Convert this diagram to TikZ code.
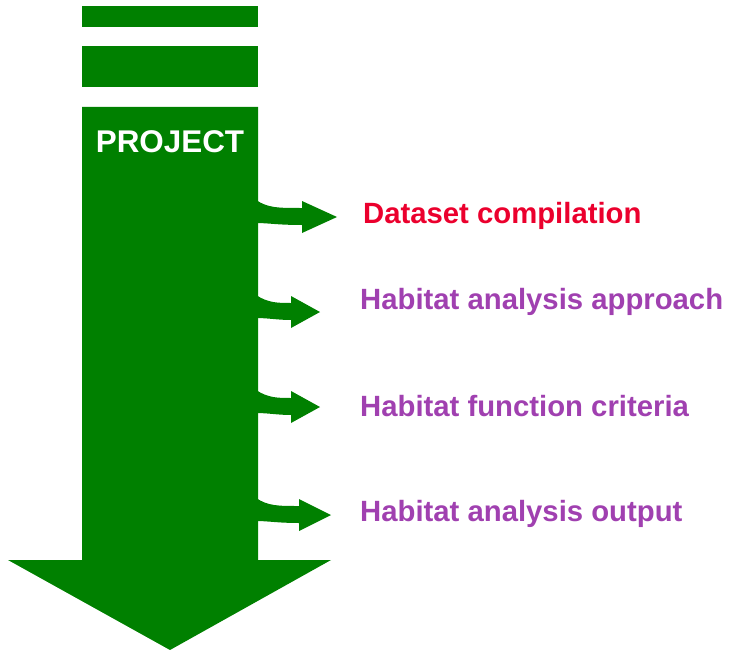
\documentclass[tikz,border=0pt]{standalone}
\usepackage{fontspec}
\setmainfont{Liberation Sans}
\usetikzlibrary{calc,positioning}
\definecolor{arrgreen}{RGB}{0,128,0}
\definecolor{stepred}{RGB}{235,0,45}
\definecolor{steppurple}{RGB}{160,64,176}
\tikzstyle{block} = [fill=arrgreen,draw=none]
\tikzstyle{title} = [text=white,font=\fontsize{31.5}{31.5}\selectfont\bfseries,inner sep=0pt,anchor=base]
\tikzstyle{steplabel} = [font=\fontsize{29.4}{29.4}\selectfont\bfseries,inner sep=0pt,anchor=base west]

\begin{document}
\begin{tikzpicture}[x=1bp,y=-1bp]
\useasboundingbox (0,0) rectangle (731,650);

% bars on top of the shaft
\fill[block] (82,6) rectangle (258,27);
\fill[block] (82,46) rectangle (258,87);

% big arrow
\fill[block] (82,107) -- (258,107) -- (258,560) -- (331,560) -- (170,650) -- (8,560) -- (82,560) -- cycle;
\node (proj) [title] at (170,152) {PROJECT};

% side arrows: y of tip, x of head base, x of tip
\foreach \y/\b/\t [count=\i] in {217/302/337, 312/291/320, 407/291/320, 515/299/331}
{
  \coordinate (tip\i) at (\t,\y);
  \fill[block] (256,\y-17) .. controls (268,\y-9) and (278,\y-9) .. (\b,\y-9)
    -- (\b,\y-16) -- (tip\i) -- (\b,\y+16) -- (\b,\y+8)
    .. controls (278,\y+8) and (268,\y+6) .. (256,\y+6) -- cycle;
}

\node (dataset) [steplabel,text=stepred] at (363,223) {Dataset compilation};
\node (approach) [steplabel,text=steppurple] at (360,309) {Habitat analysis approach};
\node (criteria) [steplabel,text=steppurple] at (360,416) {Habitat function criteria};
\node (output) [steplabel,text=steppurple] at (360,521) {Habitat analysis output};

\end{tikzpicture}
\end{document}
